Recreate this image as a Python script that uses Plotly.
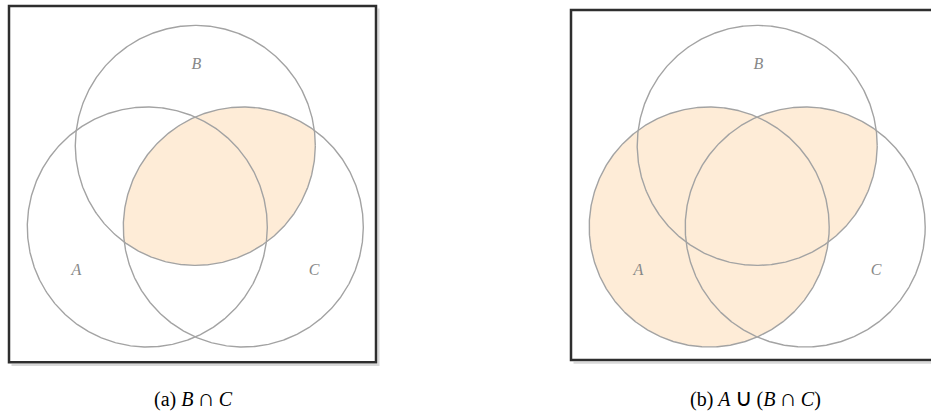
import numpy as np
import plotly.graph_objects as go

# --- data: set layout (unit radius circles) ---
sets = ["A", "B", "C"]
centers_x = [-0.40, 0.0, 0.40]
centers_y = [0.0, 0.68, 0.0]
radius = 1.0
label_x = [-0.99, 0.01, 0.99]
label_y = [-0.37, 1.35, -0.37]
CAP = "<span style='font-size:24px'>\u2229</span>"
CUP = "<span style='font-size:24px'>\u222a</span>"
captions = [f"(a) <i>B</i>\u2009{CAP}\u2009<i>C</i>",
            f"(b) <i>A</i>\u2009{CUP}\u2009(<i>B</i>\u2009{CAP}\u2009<i>C</i>)"]

FILL = "#FEECD7"
EDGE = "#a3a3a3"
LABEL = "#888888"

theta = np.linspace(0, 2 * np.pi, 721)


def circle(i):
    return (centers_x[i] + radius * np.cos(theta),
            centers_y[i] + radius * np.sin(theta))


def arc_inside(i, j):
    """points of circle i inside circle j, ordered ccw"""
    d = np.arctan2(centers_y[j] - centers_y[i], centers_x[j] - centers_x[i])
    rel = np.linspace(-np.pi, np.pi, 1441)
    px = centers_x[i] + radius * np.cos(d + rel)
    py = centers_y[i] + radius * np.sin(d + rel)
    inside = (px - centers_x[j]) ** 2 + (py - centers_y[j]) ** 2 <= radius ** 2
    return px[inside], py[inside]


def lens(i, j):
    x1, y1 = arc_inside(i, j)
    x2, y2 = arc_inside(j, i)
    return np.concatenate([x1, x2]), np.concatenate([y1, y2])


fig = go.Figure()

iA, iB, iC = 0, 1, 2
panels = [("x", "y"), ("x2", "y2")]

# panel (a): B ∩ C
lx, ly = lens(iB, iC)
fig.add_trace(go.Scatter(x=lx, y=ly, fill="toself", fillcolor=FILL, mode="lines",
                         line=dict(width=0), xaxis="x", yaxis="y", hoverinfo="skip"))
# panel (b): A ∪ (B ∩ C)
ax_, ay_ = circle(iA)
fig.add_trace(go.Scatter(x=ax_, y=ay_, fill="toself", fillcolor=FILL, mode="lines",
                         line=dict(width=0), xaxis="x2", yaxis="y2", hoverinfo="skip"))
fig.add_trace(go.Scatter(x=lx, y=ly, fill="toself", fillcolor=FILL, mode="lines",
                         line=dict(width=0), xaxis="x2", yaxis="y2", hoverinfo="skip"))

for xa, ya in panels:
    for i in range(3):
        cx, cy = circle(i)
        fig.add_trace(go.Scatter(x=cx, y=cy, mode="lines", line=dict(color=EDGE, width=1.4),
                                 xaxis=xa, yaxis=ya, hoverinfo="skip", cliponaxis=False))
    fig.add_trace(go.Scatter(x=label_x, y=label_y, mode="text", text=sets,
                             textfont=dict(family="Liberation Serif", size=16, color=LABEL,
                                           style="italic"),
                             xaxis=xa, yaxis=ya, hoverinfo="skip"))

W, H = 931, 414


def fx(px):
    return px / W


def fy(py):
    return (H - py) / H


ax_common = dict(showgrid=False, zeroline=False, showticklabels=False, ticks="",
                 showline=False, fixedrange=True)
fig.update_layout(
    width=W, height=H, margin=dict(l=0, r=0, t=0, b=0),
    paper_bgcolor="white", plot_bgcolor="white", showlegend=False,
    xaxis=dict(domain=[fx(9), fx(376)], range=[-1.5525, 1.5058], **ax_common),
    yaxis=dict(domain=[fy(362.3), fy(6)], range=[-1.1275, 1.8417], **ax_common),
    xaxis2=dict(domain=[fx(571), 1.0], range=[-1.5517, 1.4483], **ax_common),
    yaxis2=dict(domain=[fy(360), fy(10)], range=[-1.108, 1.808], **ax_common),
)

# frame shadows (light) then frames
fig.add_shape(type="path", xref="paper", yref="paper",
              path=f"M {fx(11.5)},{fy(365)} L {fx(378.5)},{fy(365)} L {fx(378.5)},{fy(8.5)}",
              line=dict(color="#d9d9d9", width=2), layer="above")
fig.add_shape(type="path", xref="paper", yref="paper",
              path=f"M {fx(573.5)},{fy(362.7)} L {fx(940)},{fy(362.7)}",
              line=dict(color="#d9d9d9", width=2), layer="above")
fig.add_shape(type="rect", xref="x domain", yref="y domain", x0=0, x1=1, y0=0, y1=1,
              line=dict(color="#2e2e2e", width=2.5), layer="above")
fig.add_shape(type="rect", xref="x2 domain", yref="y2 domain", x0=0, x1=1.05, y0=0, y1=1,
              line=dict(color="#2e2e2e", width=2.5), layer="above")

cap_x = [fx(193), fx(755)]
for cx, txt in zip(cap_x, captions):
    fig.add_annotation(x=cx, y=fy(398), xref="paper", yref="paper", text=txt,
                       showarrow=False, xanchor="center", yanchor="middle",
                       font=dict(family="Liberation Serif", size=20, color="black"))

fig.write_html("out.html", config={"displayModeBar": False},
               post_script="document.body.style.margin='0';document.body.style.overflow='hidden';")
